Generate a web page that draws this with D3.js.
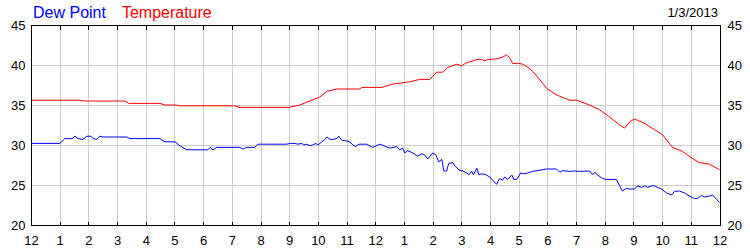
<!DOCTYPE html>
<html>
<head>
<meta charset="utf-8">
<script src="https://cdn.jsdelivr.net/npm/d3@7"></script>
<style>
  body { margin: 0; background: #fff; }
  svg { font-family: "Liberation Sans", Arial, sans-serif; }
</style>
</head>
<body>
<div id="chart"></div>
<script>
// hours since midnight, degrees F
var tempHours = [0,1.71,1.85,3.27,3.41,4.49,4.67,5.05,5.19,7.11,7.25,8.99,9.37,9.72,10.07,10.31,10.66,11.46,11.53,12.23,12.58,13.20,13.55,13.90,14.14,14.35,14.53,14.84,15.01,15.19,15.40,15.57,15.71,15.81,15.92,16.09,16.27,16.44,16.58,16.69,16.79,17.00,17.14,17.28,17.49,17.66,17.84,17.97,18.32,18.78,19.02,19.47,19.82,20.17,20.52,20.69,20.87,21.04,21.39,21.74,22.01,22.36,22.71,23.06,23.30,23.65,24];
var tempValues = [35.6,35.6,35.5,35.5,35.2,35.2,35.0,35.0,34.9,34.9,34.7,34.7,35.0,35.5,36.0,36.7,37.0,37.0,37.2,37.2,37.6,37.9,38.2,38.2,39.1,39.1,39.7,40.1,39.9,40.3,40.5,40.7,40.7,40.5,40.7,40.7,40.8,41.0,41.25,40.9,40.2,40.2,40.1,39.8,39.2,38.5,37.7,37.1,36.25,35.6,35.6,35.0,34.4,33.5,32.5,32.1,32.9,33.25,32.7,31.9,31.3,29.7,29.2,28.3,27.8,27.6,26.9];

var dewHours = [0,1.01,1.18,1.43,1.53,1.64,1.81,1.95,2.09,2.16,2.30,2.40,2.51,3.34,3.45,4.49,4.67,5.02,5.19,5.43,6.17,6.24,6.34,6.48,7.28,7.38,7.52,7.80,7.91,8.92,9.02,9.20,9.30,9.44,9.51,9.61,9.72,9.82,9.93,10.00,10.14,10.24,10.31,10.42,10.52,10.66,10.73,10.83,10.94,11.11,11.22,11.32,11.43,11.70,11.91,12.16,12.51,12.75,12.85,12.96,13.03,13.13,13.31,13.48,13.62,13.72,13.83,14.00,14.11,14.21,14.32,14.39,14.49,14.56,14.70,14.80,14.91,15.05,15.19,15.26,15.36,15.43,15.54,15.61,15.71,15.85,15.99,16.09,16.23,16.34,16.44,16.51,16.62,16.76,16.83,16.93,17.07,17.17,17.31,17.49,17.97,18.32,18.43,18.53,18.78,18.95,19.12,19.47,19.58,19.65,19.75,19.93,20.06,20.41,20.52,20.62,20.76,20.87,21.04,21.14,21.28,21.39,21.49,21.63,21.74,21.84,21.98,22.15,22.33,22.43,22.61,22.78,22.96,23.13,23.23,23.37,23.48,23.62,23.76,23.90,24];
var dewValues = [30.2,30.2,30.8,30.8,31.1,30.8,30.7,31.1,31.1,30.8,30.7,31.1,31.0,31.0,30.8,30.8,30.4,30.4,29.9,29.4,29.4,29.7,29.4,29.7,29.7,29.5,29.7,29.7,30.1,30.1,30.2,30.2,30.1,30.2,30.0,30.1,29.9,30.0,30.2,30.0,30.4,30.7,31.0,30.7,30.7,30.8,31.1,30.6,30.55,30.4,30.0,29.8,30.1,30.1,29.7,30.1,29.6,29.8,29.4,29.6,29.0,29.3,29.0,28.6,28.9,28.75,28.25,29.0,28.8,27.9,28.2,26.75,26.75,27.7,27.8,27.3,26.9,26.75,26.5,26.25,26.7,26.3,27.1,26.3,26.4,26.3,26.0,25.6,25.1,25.8,25.6,26.0,25.7,26.25,25.7,25.7,26.5,26.4,26.5,26.7,27.0,27.0,26.6,26.8,26.7,26.75,26.7,26.75,26.3,26.6,26.25,25.8,25.7,25.7,24.9,24.25,24.6,24.5,24.5,24.9,24.7,24.9,24.7,24.9,24.9,24.7,24.5,24.0,23.75,24.2,24.25,24.0,23.6,23.3,23.3,23.7,23.5,23.6,23.75,23.2,22.8];

var hourTicks = d3.range(0, 25);
var valueTicks = [20, 25, 30, 35, 40, 45];
var seriesNames = ["Dew Point", "Temperature"];
var seriesColors = ["#0000ff", "#ff0000"];
var dateLabel = "1/3/2013";

var WIDTH = 750, HEIGHT = 250;
var margin = {top: 25, right: 30, bottom: 25, left: 31};

var svg = d3.select("#chart").append("svg")
    .attr("width", WIDTH)
    .attr("height", HEIGHT);

var x = d3.scaleLinear().domain([0, 24]).range([margin.left, WIDTH - margin.right - 0.5]);
var y = d3.scaleLinear().domain([20, 45]).range([HEIGHT - margin.bottom, margin.top]);

// grid
var grid = svg.append("g").attr("shape-rendering", "crispEdges").attr("stroke", "#cccccc");
grid.selectAll("line.v")
  .data(hourTicks.slice(1, -1))
  .join("line")
    .attr("class", "v")
    .attr("x1", d => Math.round(x(d)) + 0.5).attr("x2", d => Math.round(x(d)) + 0.5)
    .attr("y1", y(45)).attr("y2", y(20));
grid.selectAll("line.h")
  .data(valueTicks.slice(1, -1))
  .join("line")
    .attr("class", "h")
    .attr("y1", d => Math.round(y(d)) + 0.5).attr("y2", d => Math.round(y(d)) + 0.5)
    .attr("x1", x(0)).attr("x2", x(24));

// series
var line = d3.line().x(d => x(d[0])).y(d => y(d[1]));
var series = [d3.zip(dewHours, dewValues), d3.zip(tempHours, tempValues)];
svg.selectAll("path.series")
  .data(series)
  .join("path")
    .attr("class", "series")
    .attr("fill", "none")
    .attr("stroke", (d, i) => seriesColors[i])
    .attr("stroke-width", 1)
    .attr("d", line);

// frame
svg.append("rect")
    .attr("x", Math.round(x(0)) + 0.5)
    .attr("y", Math.round(y(45)) + 0.5)
    .attr("width", Math.round(x(24)) - Math.round(x(0)))
    .attr("height", Math.round(y(20)) - Math.round(y(45)))
    .attr("fill", "none")
    .attr("stroke", "#000")
    .attr("shape-rendering", "crispEdges");

// axes
var hourLabel = d => (d % 12) || 12;
var axisBottomG = svg.append("g")
    .attr("transform", `translate(0,${Math.round(y(20)) + 0.5})`)
    .call(d3.axisBottom(x).tickValues(hourTicks).tickSize(-4).tickPadding(10).tickFormat(hourLabel));
var axisTopG = svg.append("g")
    .attr("transform", `translate(0,${Math.round(y(45)) + 0.5})`)
    .call(d3.axisTop(x).tickValues(hourTicks).tickSize(-4).tickFormat(""));
var axisLeftG = svg.append("g")
    .attr("transform", `translate(${Math.round(x(0)) + 0.5},0)`)
    .call(d3.axisLeft(y).tickValues(valueTicks).tickSize(0).tickPadding(6));
var axisRightG = svg.append("g")
    .attr("transform", `translate(${Math.round(x(24)) + 0.5},0)`)
    .call(d3.axisRight(y).tickValues(valueTicks).tickSize(0).tickPadding(7));

[axisBottomG, axisTopG, axisLeftG, axisRightG].forEach(g => {
  g.select(".domain").remove();
  g.selectAll(".tick line").attr("stroke", "#000").attr("shape-rendering", "crispEdges");
  g.selectAll("text").attr("fill", "#000").style("font-size", "13px")
    .style("font-family", "'Liberation Sans', Arial, sans-serif");
});

// legend title
var legend = svg.append("text").attr("x", 33).attr("y", 18).style("font-size", "16px");
seriesNames.forEach((name, i) => {
  legend.append("tspan")
    .attr("fill", seriesColors[i])
    .attr("dx", i ? 16 : 0)
    .text(name);
});

svg.append("text")
    .attr("x", 718).attr("y", 17)
    .attr("text-anchor", "end")
    .style("font-size", "13px")
    .attr("fill", "#000")
    .text(dateLabel);
</script>
</body>
</html>
